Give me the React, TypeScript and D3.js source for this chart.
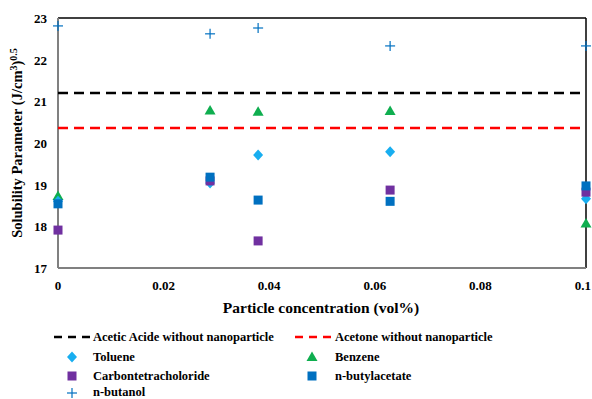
import React from "react";
import * as d3 from "d3";

const xs = [0, 0.0288, 0.0379, 0.0629, 0.1];
const toluene = [18.6, 19.04, 19.71, 19.79, 18.66];
const benzene = [18.73, 20.78, 20.75, 20.77, 18.07];
const ccl4 = [17.91, 19.09, 17.65, 18.87, 18.82];
const butylacetate = [18.54, 19.18, 18.63, 18.6, 18.97];
const butanol = [22.81, 22.62, 22.76, 22.33, 22.33];
const aceticAcid = 21.2;
const acetone = 20.36;
const xTicks = [0, 0.02, 0.04, 0.06, 0.08, 0.1];
const xTickLabels = ["0", "0.02", "0.04", "0.06", "0.08", "0.1"];
const yTicks = [17, 18, 19, 20, 21, 22, 23];

const W = 592, H = 399;
const L = 58, R = 586, T = 18, B = 268;
const font = '"Liberation Serif", "Times New Roman", Times, "DejaVu Serif", serif';

const x = d3.scaleLinear().domain([0, 0.1]).range([L, R]);
const y = d3.scaleLinear().domain([17, 23]).range([B, T]);

const C_TOL = "#18aef0";
const C_BEN = "#0fae4f";
const C_CCL = "#7030a0";
const C_BUA = "#0070c0";
const C_BUT = "#0070c0";

const sq = 9;
const diamond = (cx: number, cy: number, key?: any) => (
  <path key={key} d={`M${cx},${cy - 5.5}L${cx + 5},${cy}L${cx},${cy + 5.5}L${cx - 5},${cy}Z`} fill={C_TOL} />
);
const tri = (cx: number, cy: number, key?: any) => (
  <path key={key} d={`M${cx},${cy - 5.5}L${cx + 5.5},${cy + 4}L${cx - 5.5},${cy + 4}Z`} fill={C_BEN} />
);
const square = (cx: number, cy: number, c: string, key?: any) => (
  <rect key={key} x={cx - sq / 2} y={cy - sq / 2} width={sq} height={sq} fill={c} />
);
const plus = (cx: number, cy: number, key?: any) => (
  <g key={key} stroke={C_BUT} strokeWidth={1.2}>
    <line x1={cx - 5} x2={cx + 5} y1={cy} y2={cy} />
    <line x1={cx} x2={cx} y1={cy - 5} y2={cy + 5} />
  </g>
);

export default function App() {
  return (
    <svg width={W} height={H} style={{ position: "absolute", left: 0, top: 0, fontFamily: font }}>
      <rect width={W} height={H} fill="#fff" />
      {/* frame */}
      <line x1={L} x2={R} y1={T} y2={T} stroke="#000" strokeWidth={1.5} />
      <line x1={R} x2={R} y1={T} y2={B} stroke="#000" strokeWidth={1.5} />
      <line x1={L} x2={L} y1={T} y2={B} stroke="#808080" strokeWidth={2} />
      <line x1={L} x2={R} y1={B} y2={B} stroke="#808080" strokeWidth={2} />
      {/* reference lines */}
      <line x1={L} x2={R} y1={y(aceticAcid)} y2={y(aceticAcid)} stroke="#000" strokeWidth={2.5} strokeDasharray="10,6" />
      <line x1={L} x2={R} y1={y(acetone)} y2={y(acetone)} stroke="#ff0000" strokeWidth={2.5} strokeDasharray="10,6" />
      {/* y ticks */}
      {yTicks.map((t) => (
        <text key={t} x={47} y={y(t) + 5} textAnchor="end" fontSize={13} fontWeight="bold">{t}</text>
      ))}
      {xTicks.map((t, i) => (
        <text key={t} x={i === xTicks.length - 1 ? 591 : x(t)} y={290}
          textAnchor={i === xTicks.length - 1 ? "end" : "middle"} fontSize={13} fontWeight="bold">{xTickLabels[i]}</text>
      ))}
      <text x={321} y={313} textAnchor="middle" fontSize={15.5} fontWeight="bold">Particle concentration (vol%)</text>
      <text transform={`translate(22,143) rotate(-90)`} textAnchor="middle" fontSize={14.5} fontWeight="bold">
        Solubility Parameter (J/cm<tspan dy={-5} fontSize={10}>3</tspan><tspan dy={5}>)</tspan><tspan dy={-5} fontSize={10}>0.5</tspan>
      </text>
      {/* data */}
      {xs.map((v, i) => tri(x(v), y(benzene[i]), "b" + i))}
      {xs.map((v, i) => diamond(x(v), y(toluene[i]), "t" + i))}
      {xs.map((v, i) => square(x(v), y(ccl4[i]), C_CCL, "c" + i))}
      {xs.map((v, i) => square(x(v), y(butylacetate[i]), C_BUA, "a" + i))}
      {xs.map((v, i) => plus(x(v), y(butanol[i]), "n" + i))}
      {/* legend */}
      <g fontSize={12.5} fontWeight="bold">
        <line x1={54} x2={90} y1={337} y2={337} stroke="#000" strokeWidth={2.5} strokeDasharray="8,6" />
        <text x={93} y={341}>Acetic Acide without nanoparticle</text>
        <line x1={295} x2={331} y1={337} y2={337} stroke="#ff0000" strokeWidth={2.5} strokeDasharray="8,6" />
        <text x={335} y={341}>Acetone without nanoparticle</text>
        {diamond(72, 357)}
        <text x={93} y={361}>Toluene</text>
        {tri(312, 357)}
        <text x={335} y={361}>Benzene</text>
        {square(72, 376, C_CCL)}
        <text x={93} y={380}>Carbontetracholoride</text>
        {square(312, 376, C_BUA)}
        <text x={335} y={380}>n-butylacetate</text>
        {plus(72, 393)}
        <text x={93} y={396}>n-butanol</text>
      </g>
    </svg>
  );
}
